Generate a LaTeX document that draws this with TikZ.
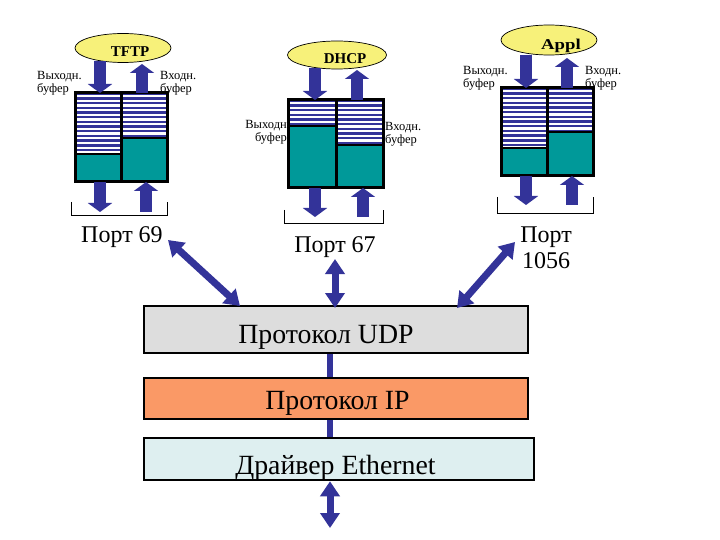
\documentclass[tikz,border=0pt]{standalone}
\usepackage{fontspec}
\setmainfont{Liberation Serif}
\usetikzlibrary{arrows.meta,shapes.geometric}
\definecolor{navy}{RGB}{51,51,153}
\definecolor{tealc}{RGB}{0,153,153}
\definecolor{ylw}{RGB}{247,241,122}
\definecolor{udpc}{RGB}{221,221,221}
\definecolor{ipc}{RGB}{250,153,102}
\definecolor{ethc}{RGB}{222,239,240}
\tikzset{
  blockarrow/.style={draw=navy, line width=12pt, -{Triangle[length=9pt,width=24pt]}},
  dblarrow/.style={draw=navy, line width=7pt, {Triangle[length=15pt,width=19pt]}-{Triangle[length=15pt,width=19pt]}},
  appell/.style={ellipse, draw=black, line width=0.7pt, fill=ylw, inner sep=0},
  elltxt/.style={font=\fontsize{15}{17}\selectfont\bfseries, inner sep=0},
  bufbox/.style={draw=black, line width=3pt, inner sep=0, rectangle},
  layer/.style={draw=black, line width=2.5pt, inner sep=0, rectangle},
  smalllbl/.style={font=\fontsize{12.5}{13}\selectfont, align=left, inner sep=0},
  biglbl/.style={font=\fontsize{24}{26}\selectfont, inner sep=0},
  layertxt/.style={font=\fontsize{27.8}{30}\selectfont, inner sep=0},
  brk/.style={draw=black, line width=0.8pt},
  link/.style={draw=navy, line width=6pt},
  stripeline/.style={draw=white, line width=2.3pt},
  divline/.style={draw=black, line width=3pt},
  fillline/.style={draw=black, line width=2pt},
}
\begin{document}
\begin{tikzpicture}[x=1pt,y=-1pt]
\useasboundingbox[fill=white] (0,0) rectangle (720,540);

% ================= TFTP =================
\begin{scope}
  \clip (75,93) rectangle (167,182);
  \fill[navy] (75,93) rectangle (167,182);
  \foreach \k in {0,...,19} \draw[stripeline] (75,96+\k*4.7) -- (167,96+\k*4.7);
\end{scope}
\fill[tealc] (75,154) rectangle (121,182);
\fill[tealc] (121,138) rectangle (167,182);
\draw[fillline] (75,154) -- (121,154) (121,138) -- (167,138);
\draw[divline] (121,93) -- (121,182);
\node[bufbox, minimum width=92pt, minimum height=89pt] (tftpbox) at (121,137.5) {};
\node[appell, minimum width=96pt, minimum height=29pt] (tftp) at (123,48) {};
\node[elltxt] (tftptxt) at (130,52) {TFTP};
\coordinate (ta1) at (100,61);  \coordinate (ta2) at (100,93);
\coordinate (ta3) at (142,93);  \coordinate (ta4) at (142,64);
\coordinate (ta5) at (100,182); \coordinate (ta6) at (100,212);
\coordinate (ta7) at (146,212); \coordinate (ta8) at (146,182);
\draw[blockarrow] (ta1) -- (ta2);
\draw[blockarrow] (ta3) -- (ta4);
\draw[blockarrow] (ta5) -- (ta6);
\draw[blockarrow] (ta7) -- (ta8);
\draw[brk] (71,202) -- (71,215) -- (167,215) -- (167,202);
\node[smalllbl, anchor=west] (tftpout) at (37,83.5) {Выходн.\\буфер};
\node[smalllbl, anchor=west] (tftpin) at (160,83.5) {Входн.\\буфер};
\node[biglbl, anchor=base] (p69) at (122,243) {Порт 69};

% ================= DHCP =================
\begin{scope}
  \clip (288,100) rectangle (383,188);
  \fill[navy] (288,100) rectangle (383,188);
  \foreach \k in {0,...,19} \draw[stripeline] (288,103+\k*4.7) -- (383,103+\k*4.7);
\end{scope}
\fill[tealc] (288,126) rectangle (336,188);
\fill[tealc] (336,145) rectangle (383,188);
\draw[fillline] (288,126) -- (336,126) (336,145) -- (383,145);
\draw[divline] (336,100) -- (336,188);
\node[bufbox, minimum width=95pt, minimum height=88pt] (dhcpbox) at (335.5,144) {};
\node[appell, minimum width=99pt, minimum height=28pt] (dhcp) at (337,55) {};
\node[elltxt] (dhcptxt) at (345,59) {DHCP};
\coordinate (da1) at (315,68);  \coordinate (da2) at (315,100);
\coordinate (da3) at (357,100); \coordinate (da4) at (357,70);
\coordinate (da5) at (315,188); \coordinate (da6) at (315,217);
\coordinate (da7) at (363,217); \coordinate (da8) at (363,188);
\draw[blockarrow] (da1) -- (da2);
\draw[blockarrow] (da3) -- (da4);
\draw[blockarrow] (da5) -- (da6);
\draw[blockarrow] (da7) -- (da8);
\draw[brk] (284,210) -- (284,223) -- (383,223) -- (383,210);
\node[smalllbl, anchor=east, align=right] (dhcpout) at (287,132.5) {Выходн\\буфер};
\node[smalllbl, anchor=west] (dhcpin) at (385,134) {Входн.\\буфер};
\node[biglbl, anchor=base] (p67) at (335,252) {Порт 67};

% ================= Appl =================
\begin{scope}
  \clip (501,88) rectangle (593,176);
  \fill[navy] (501,88) rectangle (593,176);
  \foreach \k in {0,...,19} \draw[stripeline] (501,91+\k*4.7) -- (593,91+\k*4.7);
\end{scope}
\fill[tealc] (501,148) rectangle (547,176);
\fill[tealc] (547,132) rectangle (593,176);
\draw[fillline] (501,148) -- (547,148) (547,132) -- (593,132);
\draw[divline] (547,88) -- (547,176);
\node[bufbox, minimum width=92pt, minimum height=88pt] (applbox) at (547,132) {};
\node[appell, minimum width=96pt, minimum height=30pt] (appl) at (549,40) {};
\node[elltxt, xscale=1.25] (appltxt) at (561,46) {Appl};
\coordinate (aa1) at (526,55);  \coordinate (aa2) at (526,88);
\coordinate (aa3) at (567,88);  \coordinate (aa4) at (567,58);
\coordinate (aa5) at (526,176); \coordinate (aa6) at (526,205);
\coordinate (aa7) at (572,205); \coordinate (aa8) at (572,176);
\draw[blockarrow] (aa1) -- (aa2);
\draw[blockarrow] (aa3) -- (aa4);
\draw[blockarrow] (aa5) -- (aa6);
\draw[blockarrow] (aa7) -- (aa8);
\draw[brk] (497,197) -- (497,213) -- (593,213) -- (593,197);
\node[smalllbl, anchor=west] (applout) at (463,78.5) {Выходн.\\буфер};
\node[smalllbl, anchor=west] (applin) at (585,78.5) {Входн.\\буфер};
\node[biglbl, align=center, font=\fontsize{24}{26}\selectfont] (p1056) at (546,248) {Порт\\1056};

% ================= Layers =================
\node[layer, fill=udpc, minimum width=384pt, minimum height=47pt] (udp) at (336,329.5) {};
\node[layertxt, anchor=base] (udptxt) at (326,343) {Протокол UDP};
\node[layer, fill=ipc, minimum width=384pt, minimum height=41pt] (ip) at (336,398.5) {};
\node[layertxt, anchor=base] (iptxt) at (337.5,409) {Протокол IP};
\node[layer, fill=ethc, minimum width=390pt, minimum height=42pt] (eth) at (339,459) {};
\node[layertxt, anchor=base] (ethtxt) at (335.5,474) {Драйвер Ethernet};

\coordinate (lx) at (330,0);
\draw[link] (udp.south -| lx) -- (ip.north -| lx);
\draw[link] (ip.south -| lx) -- (eth.north -| lx);
\coordinate (netend) at (330,528);
\draw[dblarrow] (eth.south -| lx) -- (netend);

% port to UDP arrows
\coordinate (p69a) at (168,240);  \coordinate (u69) at (240,306);
\coordinate (p67a) at (335,259);  \coordinate (u67) at (335,308);
\coordinate (p56a) at (515,242);  \coordinate (u56) at (457,308);
\draw[dblarrow] (p69a) -- (u69);
\draw[dblarrow] (p67a) -- (u67);
\draw[dblarrow] (p56a) -- (u56);
\end{tikzpicture}
\end{document}
